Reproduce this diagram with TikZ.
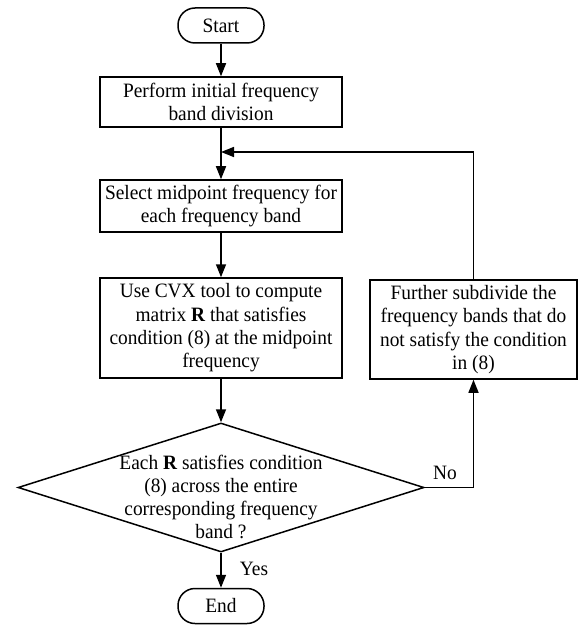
\documentclass[tikz,border=0pt]{standalone}
\usepackage{fontspec}
\setmainfont{Liberation Serif}[FakeStretch=0.95]
\usetikzlibrary{shapes.geometric,arrows.meta}
\begin{document}
\begin{tikzpicture}[x=1pt,y=-1pt,
  font=\fontsize{20.4}{23.3}\selectfont,
  proc/.style={draw,line width=1.5pt,minimum width=242pt,align=center,inner sep=0pt},
  term/.style={draw,line width=1.5pt,rounded corners=17pt,minimum width=86pt,minimum height=35pt,inner sep=0pt},
  decision/.style={draw,diamond,line width=1.5pt,minimum width=406pt,minimum height=129pt,inner sep=0pt},
  link/.style={line width=1.5pt,-{Triangle[length=13pt,width=10pt]}},
  lbl/.style={inner sep=0pt,align=center}]
\useasboundingbox (0,0) rectangle (583,628);
\node[term] (start) at (221,25.5) {Start};
\node[proc,minimum height=50pt] (b1) at (221,102) {Perform initial frequency\\band division};
\node[proc,minimum height=52pt] (b2) at (221,206) {Select midpoint frequency for\\each frequency band};
\node[proc,minimum height=100pt] (b3) at (221,328) {Use CVX tool to compute\\matrix \textbf{R} that satisfies\\condition (8) at the midpoint\\frequency};
\node[proc,minimum width=207pt,minimum height=99pt] (rb) at (473.5,329.5) {Further subdivide the\\frequency bands that do\\not satisfy the condition\\in (8)};
\node[decision] (dec) at (221,487.5) {};
\node[lbl] (dect) at (221,497) {Each \textbf{R} satisfies condition\\(8) across the entire\\corresponding frequency\\band ?};
\node[term] (end) at (221,606) {End};
\coordinate (j) at (221,152);
\node[lbl] (yes) at (254,569) {Yes};
\node[lbl] (no) at (445,473) {No};
\draw[link] (start) -- (b1);
\draw[link] (b1) -- (b2);
\draw[link] (b2) -- (b3);
\draw[link] (b3) -- (dec);
\draw[link] (dec) -- (end);
\draw[link] (dec.east) -| (rb.south);
\draw[link] (rb.north) |- (j);
\end{tikzpicture}
\end{document}
